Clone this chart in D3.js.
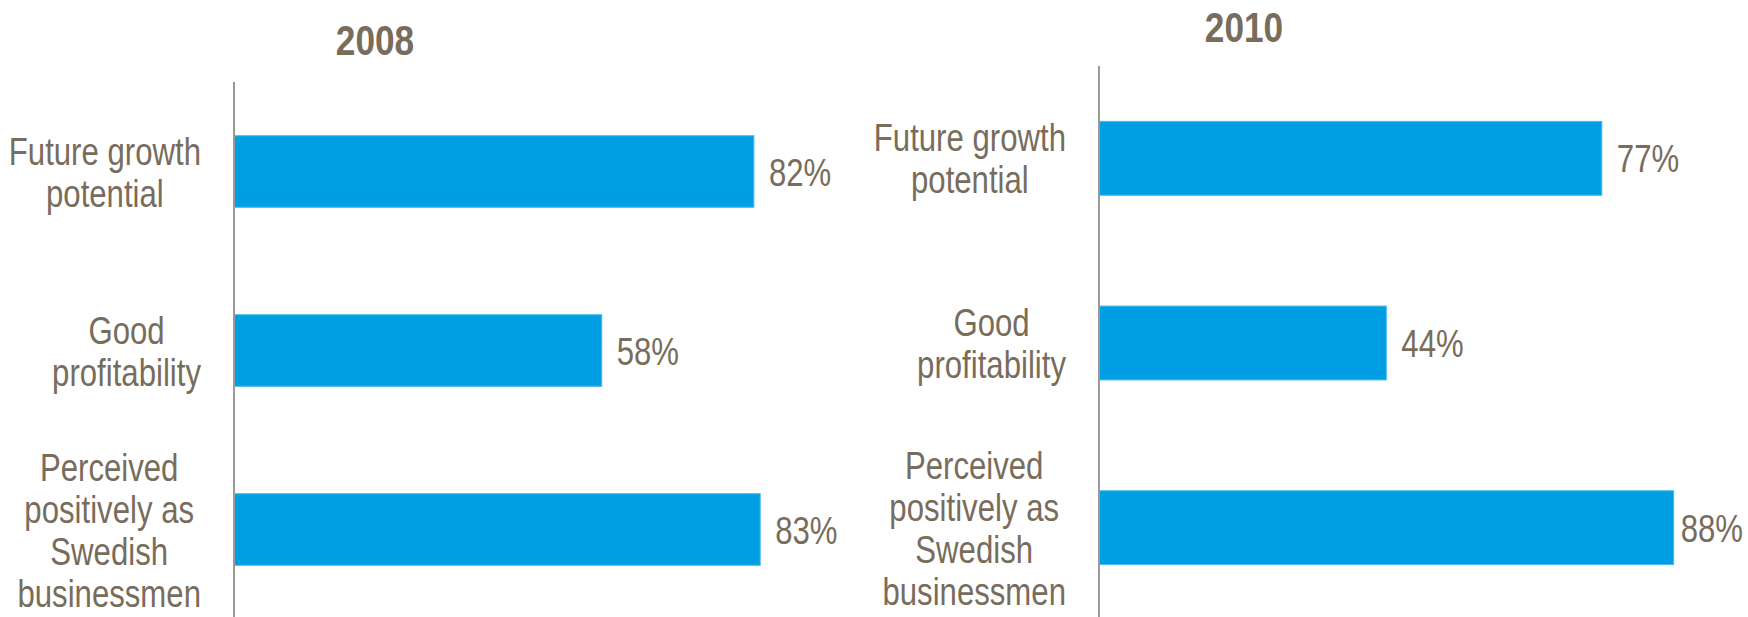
<!DOCTYPE html>
<html>
<head>
<meta charset="utf-8">
<script src="https://cdn.jsdelivr.net/npm/d3@7"></script>
<style>
  html, body { margin: 0; padding: 0; background: #ffffff; }
  svg { display: block; }
  text { font-family: "Liberation Sans", Arial, sans-serif; fill: #786c5c; }
</style>
</head>
<body>
<svg id="chart" width="1748" height="617"></svg>
<script>
// Survey results: share of respondents agreeing with each statement
const years = ["2008", "2010"];
const categories = ["Future growth potential", "Good profitability", "Perceived positively as Swedish businessmen"];
const categoryLines = [
  ["Future growth", "potential"],
  ["Good", "profitability"],
  ["Perceived", "positively as", "Swedish", "businessmen"]
];
const values2008 = [82, 58, 83];
const values2010 = [77, 44, 88];

const W = 1748, H = 617;
const svg = d3.select("#chart");

const BAR = "#009fe3";
const BAR_EDGE = "#4cb8ea";
const AXIS = "#9a9a9a";
const LABEL_SIZE = 38;
const TITLE_SIZE = 43;
const NARROW = 0.82;      // horizontal squeeze for a condensed look
const LINE_H = 42;

// place a condensed text item at (x, y)
function place(sel, x, y) {
  sel.attr("transform", (d, i) =>
    `translate(${typeof x === "function" ? x(d, i) : x},${typeof y === "function" ? y(d, i) : y}) scale(${NARROW},1)`);
}

// Each panel: its own band scale (categories) and linear scale (percent)
const panels = [
  { year: years[0], values: values2008, x: [234, 868], y: [82, 619], title: [375, 55] },
  { year: years[1], values: values2010, x: [1099, 1752], y: [66, 620], title: [1244, 42] }
];

panels.forEach(p => {
  const g = svg.append("g");
  const x = d3.scaleLinear().domain([0, 100]).range(p.x);
  const y = d3.scaleBand().domain(categories).range(p.y)
    .paddingInner(0.6).paddingOuter(0.3);

  // year heading
  g.append("text")
    .attr("text-anchor", "middle")
    .style("font-size", TITLE_SIZE + "px").style("font-weight", "bold")
    .text(p.year)
    .call(place, p.title[0], p.title[1]);

  // bars
  g.selectAll("rect.bar").data(categories).join("rect")
    .attr("class", "bar")
    .attr("x", x(0))
    .attr("y", d => y(d))
    .attr("width", (d, i) => x(p.values[i]) - x(0))
    .attr("height", y.bandwidth())
    .attr("fill", BAR)
    .attr("stroke", BAR_EDGE)
    .attr("stroke-width", 1);

  // category axis line
  g.append("line")
    .attr("x1", x(0)).attr("x2", x(0))
    .attr("y1", p.y[0]).attr("y2", H)
    .attr("stroke", AXIS).attr("stroke-width", 2);

  // value labels, kept inside the right edge of the canvas
  const vals = g.selectAll("text.val").data(categories).join("text")
    .attr("class", "val")
    .style("font-size", LABEL_SIZE + "px")
    .text((d, i) => p.values[i] + "%");
  const widths = vals.nodes().map(n => n.getComputedTextLength() * NARROW);
  vals.call(place,
    (d, i) => Math.min(x(p.values[i]) + 15, W - widths[i] - 5),
    d => y(d) + y.bandwidth() / 2 + 14);

  // category labels: wrapped lines centred within a block right-aligned to the axis
  const rightEdge = x(0) - 33;
  categories.forEach((c, i) => {
    const lines = categoryLines[i];
    const cy = y(c) + y.bandwidth() / 2;
    const texts = g.append("g").selectAll("text").data(lines).join("text")
      .attr("text-anchor", "middle")
      .style("font-size", LABEL_SIZE + "px")
      .text(d => d);
    const maxW = d3.max(texts.nodes(), n => n.getComputedTextLength()) * NARROW;
    texts.call(place, rightEdge - maxW / 2,
      (d, k) => cy + 14 + (k - (lines.length - 1) / 2) * LINE_H);
  });
});
</script>
</body>
</html>
